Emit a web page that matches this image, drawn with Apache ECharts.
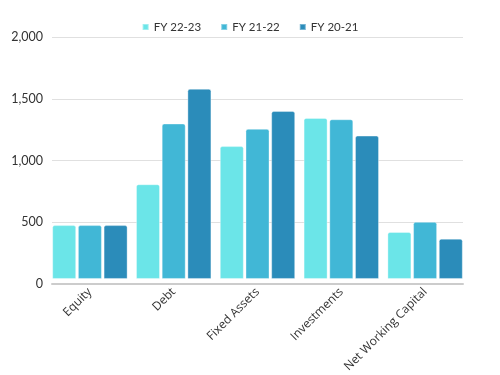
<!DOCTYPE html>
<html>
<head>
<meta charset="utf-8">
<script src="https://cdn.jsdelivr.net/npm/echarts@6/dist/echarts.min.js"></script>
<style>
  html, body { margin: 0; padding: 0; background: #fff; }
  #chart { width: 500px; height: 375px; }
</style>
</head>
<body>
<div id="chart"></div>
<script>
// categories and series values
var categories = ["Equity", "Debt", "Fixed Assets", "Investments", "Net Working Capital"];
var fy2223 = [445, 783, 1098, 1331, 388];
var fy2122 = [445, 1285, 1241, 1320, 472];
var fy2021 = [445, 1572, 1388, 1185, 333];
var seriesNames = ["FY 22-23", "FY 21-22", "FY 20-21"];
var yTicks = [0, 500, 1000, 1500, 2000];
var colors = ["#6be5e8", "#41b7d6", "#2b8cba"];

var myChart = echarts.init(document.getElementById("chart"));

function bar(name, data, color) {
  return {
    name: name,
    type: "bar",
    data: data,
    xAxisIndex: 0,
    yAxisIndex: 0,
    barGap: "7%",
    barCategoryGap: "10%",
    itemStyle: {
      color: color,
      borderColor: "rgba(255,255,255,0.35)",
      borderWidth: 1,
      borderRadius: [2, 2, 0, 0]
    }
  };
}

var yMin = yTicks[0], yMax = yTicks[yTicks.length - 1], yStep = yTicks[1] - yTicks[0];

myChart.setOption({
  animation: false,
  legend: {
    top: 16,
    left: "center",
    itemWidth: 6,
    itemHeight: 6,
    itemGap: 19,
    icon: "rect",
    textStyle: { fontFamily: "Lato", fontSize: 11.5, color: "#333" },
    data: seriesNames
  },
  // grid 0 holds the bars (edges of the groups touch the plot edge),
  // grid 1 holds the visible y labels, split lines and base line
  grid: [
    { left: 48, right: 33, top: 37, bottom: 91 },
    { left: 52, right: 37, top: 37, bottom: 91 }
  ],
  xAxis: [
    {
      type: "category",
      gridIndex: 0,
      data: categories,
      axisLine: { show: false },
      axisTick: { show: false },
      axisLabel: {
        rotate: 45,
        interval: 0,
        margin: 11,
        fontFamily: "Open Sans",
        fontSize: 12,
        color: "#333"
      }
    },
    {
      type: "category",
      gridIndex: 1,
      data: categories,
      axisLine: { show: true, lineStyle: { color: "#ccc", width: 2 } },
      axisTick: { show: false },
      axisLabel: { show: false }
    }
  ],
  yAxis: [
    {
      type: "value",
      gridIndex: 0,
      min: yMin,
      max: yMax,
      interval: yStep,
      show: false
    },
    {
      type: "value",
      gridIndex: 1,
      min: yMin,
      max: yMax,
      interval: yStep,
      axisLine: { show: false },
      axisTick: { show: false },
      splitLine: { lineStyle: { color: "#e0e0e0", width: 1 } },
      axisLabel: {
        margin: 9,
        fontFamily: "Lato",
        fontSize: 12.5,
        color: "#333",
        formatter: function (v) { return v.toLocaleString("en-US"); }
      }
    }
  ],
  series: [
    bar(seriesNames[0], fy2223, colors[0]),
    bar(seriesNames[1], fy2122, colors[1]),
    bar(seriesNames[2], fy2021, colors[2])
  ]
});
</script>
</body>
</html>
